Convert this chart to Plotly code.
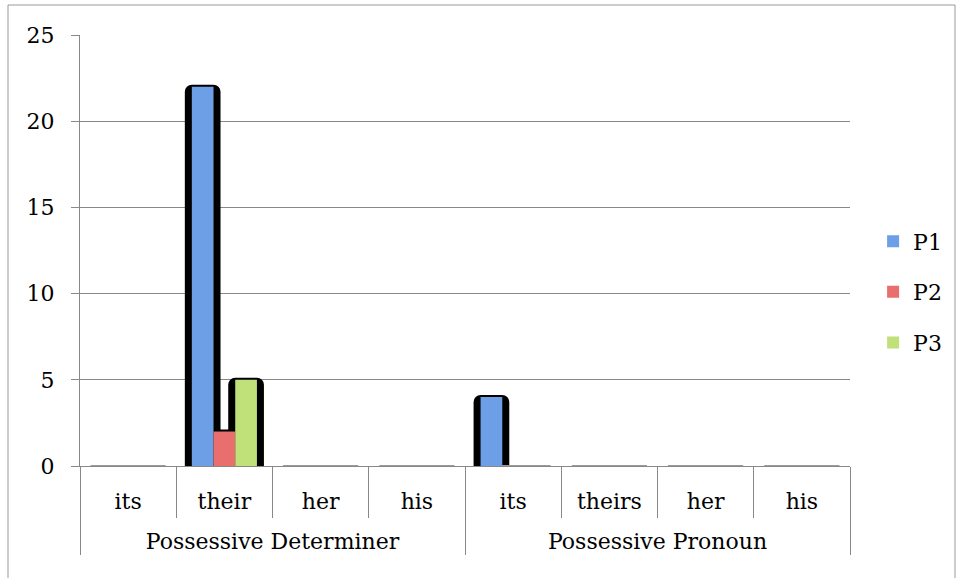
import plotly.graph_objects as go

groups = ["Possessive Determiner"] * 4 + ["Possessive Pronoun"] * 4
words = ["its", "their", "her", "his", "its", "theirs", "her", "his"]
series_names = ["P1", "P2", "P3"]
p1 = [0, 22, 0, 0, 4, 0, 0, 0]
p2 = [0, 2, 0, 0, 0, 0, 0, 0]
p3 = [0, 5, 0, 0, 0, 0, 0, 0]
values = [p1, p2, p3]
colors = ["#6d9fe6", "#e96e6e", "#c0e07a"]
yticks = [0, 5, 10, 15, 20, 25]

FONT = "DejaVu Serif"
GRID = "#888888"
cat_px = 770 / 8.0
w = 21.7 / cat_px
pad = 5 / cat_px

# Plotly orders multicategory sub-labels by first appearance; feed points so that
# "theirs" is seen before "her"/"his" and the display order matches the source.
feed = [0, 1, 5, 2, 3, 4, 6, 7]
group_labels = ["<br>" + groups[k] for k in feed]
word_labels = [words[k] for k in feed]
x = [group_labels, word_labels]

fig = go.Figure()
# black "depth" backings first
for i, (name, vals) in enumerate(zip(series_names, values)):
    v = [vals[k] for k in feed]
    off = (i - 1.5) * w
    fig.add_trace(go.Bar(
        x=x, y=v, width=w + 2 * pad, offset=off - pad,
        marker=dict(color="black", cornerradius=5,
                    line=dict(color=["#9a9a9a" if q == 0 else "black" for q in v],
                              width=[2 if q == 0 else 4 for q in v])),
        showlegend=False, hoverinfo="skip"))
for i, (name, vals) in enumerate(zip(series_names, values)):
    v = [vals[k] for k in feed]
    off = (i - 1.5) * w
    fig.add_trace(go.Bar(
        x=x, y=v, width=w, offset=off, name=name, legendgroup=name,
        marker=dict(color=colors[i], line=dict(width=0))))

fig.update_layout(
    barmode="overlay",
    width=956, height=578,
    margin=dict(l=80, r=106, t=35, b=112, autoexpand=False),
    paper_bgcolor="white", plot_bgcolor="white",
    font=dict(family=FONT, size=22, color="black"),
    legend=dict(x=1.03, y=0.404, xanchor="left", yanchor="middle",
                traceorder="grouped", tracegroupgap=19,
                font=dict(family=FONT, size=22)),
    xaxis=dict(type="multicategory", showline=True, linecolor=GRID, linewidth=1,
               ticks="outside", ticklen=51, tickcolor=GRID, tickson="boundaries",
               ticklabelstandoff=16,
               showdividers=True, dividercolor=GRID, dividerwidth=1,
               showgrid=False, tickfont=dict(family=FONT, size=22)),
    yaxis=dict(range=[0, 25], tickvals=yticks, showgrid=True, gridcolor=GRID, gridwidth=1,
               showline=True, linecolor=GRID, linewidth=1, ticks="outside", ticklen=8,
               tickcolor=GRID, ticklabelstandoff=12, zeroline=False,
               tickfont=dict(family=FONT, size=22)),
    shapes=[dict(type="rect", xref="paper", yref="paper",
                 x0=(8 - 80) / 770, x1=(955 - 80) / 770,
                 y0=1 - (590 - 35) / 431, y1=1 + 30 / 431,
                 line=dict(color="#999999", width=1), fillcolor="rgba(0,0,0,0)", layer="below")],
)

fig.write_html("out.html", config={"displayModeBar": False},
               post_script="document.body.style.margin='0';")
